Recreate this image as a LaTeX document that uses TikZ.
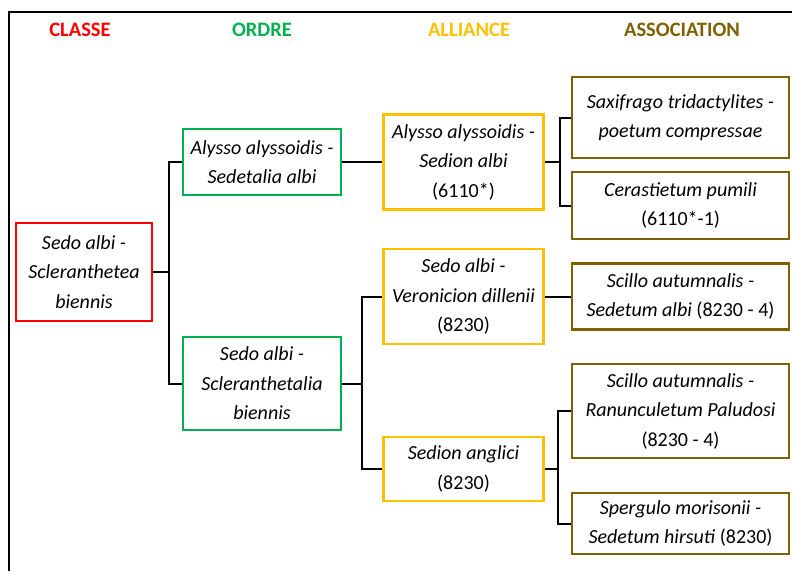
\documentclass[tikz,border=0pt]{standalone}
\usepackage{fontspec}
\setmainfont{Carlito}
\definecolor{classered}{HTML}{FF0000}
\definecolor{ordregreen}{HTML}{00B050}
\definecolor{alliancegold}{HTML}{FFC000}
\definecolor{assocbrown}{HTML}{7F6000}

\begin{document}
\begin{tikzpicture}[x=1pt,y=-1pt,
  head/.style={font=\fontsize{20.5}{22}\selectfont\bfseries},
  box/.style={draw,line width=2.4pt,align=center,inner sep=0pt,
    font=\fontsize{20}{29.5}\selectfont\itshape},
  classe/.style={box,draw=classered},
  ordre/.style={box,draw=ordregreen,minimum width=158pt},
  alliance/.style={box,draw=alliancegold,minimum width=160pt},
  assoc/.style={box,draw=assocbrown,minimum width=217pt},
  link/.style={line width=2pt}]
\useasboundingbox (0,0) rectangle (792,571);
\draw[line width=2pt] (9,571) -- (9,12) -- (792,12);
% column titles
\node[head,text=classered] (tclasse) at (80,30) {CLASSE};
\node[head,text=ordregreen] (tordre) at (262,30) {ORDRE};
\node[head,text=alliancegold] (talliance) at (469,30) {ALLIANCE};
\node[head,text=assocbrown] (tassoc) at (682,30) {ASSOCIATION};
% boxes
\node[classe,minimum width=136pt,minimum height=98pt] (sedo) at (84,272)
  {Sedo albi -\\Scleranthetea\\biennis};
\node[ordre,minimum height=66pt] (alysso) at (262,162)
  {Alysso alyssoidis -\\Sedetalia albi};
\node[ordre,minimum height=93pt] (scler) at (262,383.5)
  {Sedo albi -\\Scleranthetalia\\biennis};
\node[alliance,minimum height=95pt] (sedion) at (463.5,162)
  {Alysso alyssoidis -\\Sedion albi\\\textup{(6110*)}};
\node[alliance,minimum height=95pt] (veron) at (463.5,296.5)
  {Sedo albi -\\Veronicion dillenii\\\textup{(8230)}};
\node[alliance,minimum height=64pt] (anglici) at (463.5,469)
  {Sedion anglici\\\textup{(8230)}};
\node[assoc,minimum height=81pt] (saxi) at (680.5,117.5)
  {Saxifrago tridactylites -\\poetum compressae};
\node[assoc,minimum height=67pt] (cerast) at (680.5,205.5)
  {Cerastietum pumili\\\textup{(6110*-1)}};
\node[assoc,minimum height=66pt] (scilloa) at (680.5,296.5)
  {Scillo autumnalis -\\Sedetum albi \textup{(8230 - 4)}};
\node[assoc,minimum height=94pt] (scillob) at (680.5,411)
  {Scillo autumnalis -\\Ranunculetum Paludosi\\\textup{(8230 - 4)}};
\node[assoc,minimum height=61pt] (spergulo) at (680.5,523.5)
  {Spergulo morisonii -\\Sedetum hirsuti \textup{(8230)}};
% connectors
\draw[link] (sedo.east) -- ++(16,0) coordinate (b1);
\draw[link] (b1) |- (alysso.west);
\draw[link] (b1) |- (scler.west);
\draw[link] (alysso.east) -- (sedion.west);
\draw[link] (scler.east) -- ++(20,0) coordinate (b2);
\draw[link] (b2) |- (veron.west);
\draw[link] (b2) |- (anglici.west);
\draw[link] (sedion.east) -- ++(15,0) coordinate (b3);
\draw[link] (b3) |- (saxi.west);
\draw[link] (b3) |- (cerast.west);
\draw[link] (veron.east) -- (scilloa.west);
\draw[link] (anglici.east) -- ++(13,0) coordinate (b4);
\draw[link] (b4) |- (scillob.west);
\draw[link] (b4) |- (spergulo.west);
\end{tikzpicture}
\end{document}
